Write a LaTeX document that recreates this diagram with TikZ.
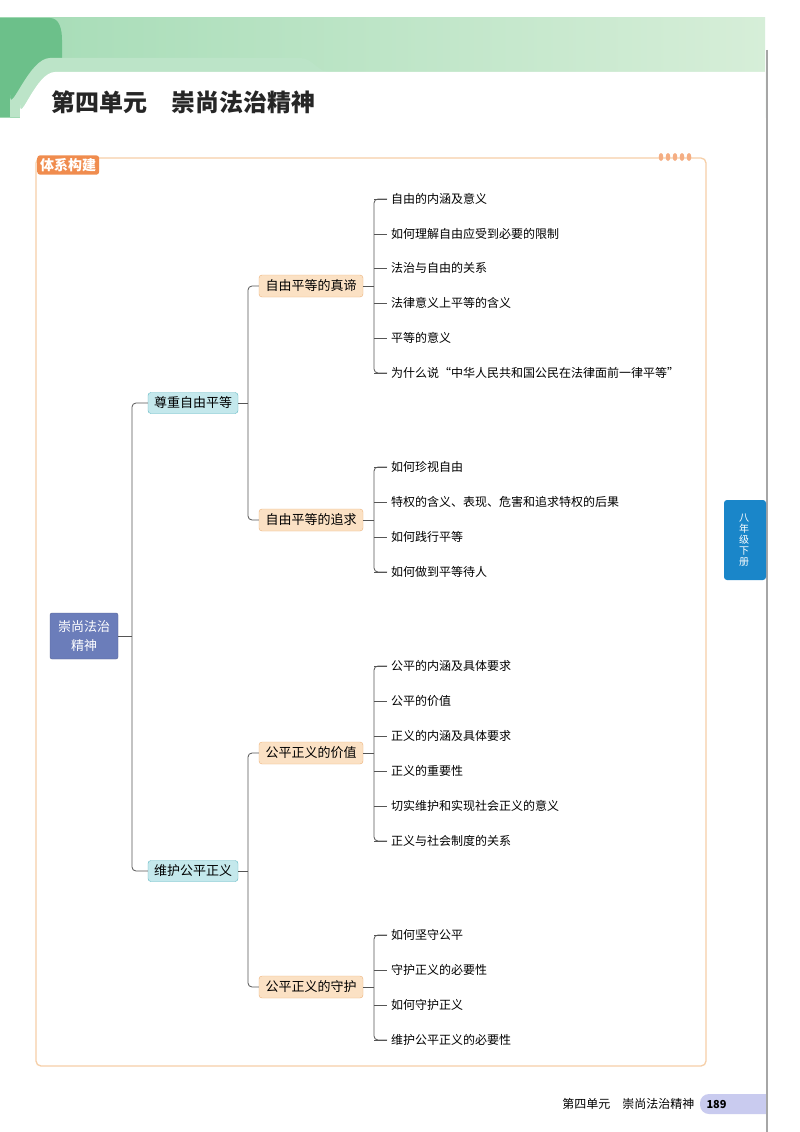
\documentclass[tikz,border=0pt]{standalone}
\usepackage{fontspec}
\setmainfont{Noto Sans CJK SC}
\newfontfamily\cjk{Noto Sans CJK SC}
\usetikzlibrary{positioning}
\definecolor{rootc}{HTML}{6B7DBA}
\definecolor{tealf}{HTML}{C4E8EC}
\definecolor{teald}{HTML}{5DB7C2}
\definecolor{orf}{HTML}{FBE1C4}
\definecolor{ord}{HTML}{EDB27A}
\definecolor{frame}{HTML}{F6CFA8}
\definecolor{tab}{HTML}{F08C4E}
\definecolor{lnk}{HTML}{555555}
\definecolor{g1}{HTML}{8FD3A4}
\definecolor{g2}{HTML}{D6EED8}
\definecolor{gdark}{HTML}{6CC08A}
\definecolor{sidec}{HTML}{1A86C9}
\definecolor{pillc}{HTML}{C9CBEF}
\tikzset{
 x=1pt,y=-1pt,
 rootbox/.style={fill=rootc,draw=rootc!80!black,rounded corners=2pt,text=white,font=\cjk\fontsize{13}{19}\selectfont,align=center,minimum width=68pt,minimum height=46pt,inner sep=2pt},
 lvone/.style={fill=tealf,draw=teald,rounded corners=3pt,font=\cjk\fontsize{13}{15}\selectfont,minimum width=90pt,minimum height=21pt,inner sep=2pt},
 lvtwo/.style={fill=orf,draw=ord,rounded corners=3pt,font=\cjk\fontsize{13}{15}\selectfont,minimum width=104pt,minimum height=22pt,inner sep=2pt},
 leaf/.style={anchor=west,font=\cjk\fontsize{12}{14}\selectfont,inner sep=1pt},
 link/.style={draw=lnk,line width=0.8pt,rounded corners=4pt},
}
\begin{document}
\begin{tikzpicture}
\useasboundingbox (0,0) rectangle (800,1132);
\fill[white] (0,0) rectangle (800,1132);
% header
\shade[left color=g1!80,right color=g2] (0,18) rectangle (765,117);
\fill[gdark] (0,18) -- (50,18) to[out=0,in=90] (62,40) -- (62,117) -- (0,117) -- cycle;
\fill[g1!60] (10,117) -- (10,95) to[out=-90,in=180] (50,58) -- (300,58) to[out=0,in=180] (330,72) -- (330,117) -- cycle;
\fill[white] (20,117) -- (20,105) to[out=-90,in=180] (55,72) -- (765,72) -- (765,117) -- cycle;
\fill[white] (20,110) rectangle (765,140);
\draw[gray!70,line width=1.2pt] (767,50) -- (767,1132);
\node[anchor=west,font=\cjk\bfseries\fontsize{24}{26}\selectfont,text=black!85] (title) at (48,102) {第四单元\quad 崇尚法治精神};
% frame
\draw[frame,line width=1.3pt,rounded corners=5pt] (36,158) rectangle (706,1066);
\node[fill=tab,text=white,rounded corners=3pt,font=\cjk\bfseries\fontsize{14}{16}\selectfont,inner sep=3pt,anchor=west] (tabn) at (37,165) {体系构建};
\foreach \i in {0,1,2,3,4} \fill[tab!70] (661+7*\i,157) ellipse (2.3 and 4);
% side tab
\fill[sidec,rounded corners=3pt] (724,500) rectangle (766,580);
\node[text=white,font=\cjk\fontsize{10}{11}\selectfont,align=center] (side) at (744,540) {八\\年\\级\\下\\册};
% nodes
\node[rootbox] (root) at (84,636) {崇尚法治\\精神};
\node[lvone] (a) at (193,403) {尊重自由平等};
\node[lvone] (b) at (193,871) {维护公平正义};
\node[lvtwo] (a1) at (311,286) {自由平等的真谛};
\node[lvtwo] (a2) at (311,520) {自由平等的追求};
\node[lvtwo] (b1) at (311,753) {公平正义的价值};
\node[lvtwo] (b2) at (311,987) {公平正义的守护};
\draw[link] (root.east) -- (132,636);
\draw[link] (a.west) -- (132,403) -- (132,871) -- (b.west);
\draw[link] (a.east) -- (248,403);
\draw[link] (a1.west) -- (248,286) -- (248,520) -- (a2.west);
\draw[link] (b.east) -- (248,871);
\draw[link] (b1.west) -- (248,753) -- (248,987) -- (b2.west);
% leaves
\foreach \t/\yy [count=\k] in {自由的内涵及意义/199,如何理解自由应受到必要的限制/234,法治与自由的关系/268,法律意义上平等的含义/303,平等的意义/338,为什么说“中华人民共和国公民在法律面前一律平等”/373}
 {\node[leaf] (p\k) at (390,\yy) {\t}; \draw[link] (374,\yy) -- ([xshift=-3pt]p\k.west);}
\draw[link] ([xshift=-3pt]p1.west) -| (374,373) -- ([xshift=-3pt]p6.west);
\draw[link] (a1.east) -- (374,286);
\foreach \t/\yy [count=\k] in {如何珍视自由/467,特权的含义、表现、危害和追求特权的后果/502,如何践行平等/537,如何做到平等待人/572}
 {\node[leaf] (q\k) at (390,\yy) {\t}; \draw[link] (374,\yy) -- ([xshift=-3pt]q\k.west);}
\draw[link] ([xshift=-3pt]q1.west) -| (374,572) -- ([xshift=-3pt]q4.west);
\draw[link] (a2.east) -- (374,520);
\foreach \t/\yy [count=\k] in {公平的内涵及具体要求/666,公平的价值/701,正义的内涵及具体要求/736,正义的重要性/771,切实维护和实现社会正义的意义/806,正义与社会制度的关系/841}
 {\node[leaf] (r\k) at (390,\yy) {\t}; \draw[link] (374,\yy) -- ([xshift=-3pt]r\k.west);}
\draw[link] ([xshift=-3pt]r1.west) -| (374,841) -- ([xshift=-3pt]r6.west);
\draw[link] (b1.east) -- (374,753);
\foreach \t/\yy [count=\k] in {如何坚守公平/935,守护正义的必要性/970,如何守护正义/1005,维护公平正义的必要性/1040}
 {\node[leaf] (s\k) at (390,\yy) {\t}; \draw[link] (374,\yy) -- ([xshift=-3pt]s\k.west);}
\draw[link] ([xshift=-3pt]s1.west) -| (374,1040) -- ([xshift=-3pt]s4.west);
\draw[link] (b2.east) -- (374,987);
% footer
\fill[pillc,rounded corners=9pt] (700,1094) rectangle (775,1114);
\fill[white] (767,1090) rectangle (800,1120);
\draw[gray!70,line width=1.2pt] (767,1085) -- (767,1132);
\node[anchor=east,font=\cjk\fontsize{12}{14}\selectfont] (foot) at (698,1104) {第四单元\quad 崇尚法治精神};
\node[anchor=west,font=\cjk\bfseries\fontsize{11}{13}\selectfont] (pg) at (703,1104) {189};
\end{tikzpicture}
\end{document}
